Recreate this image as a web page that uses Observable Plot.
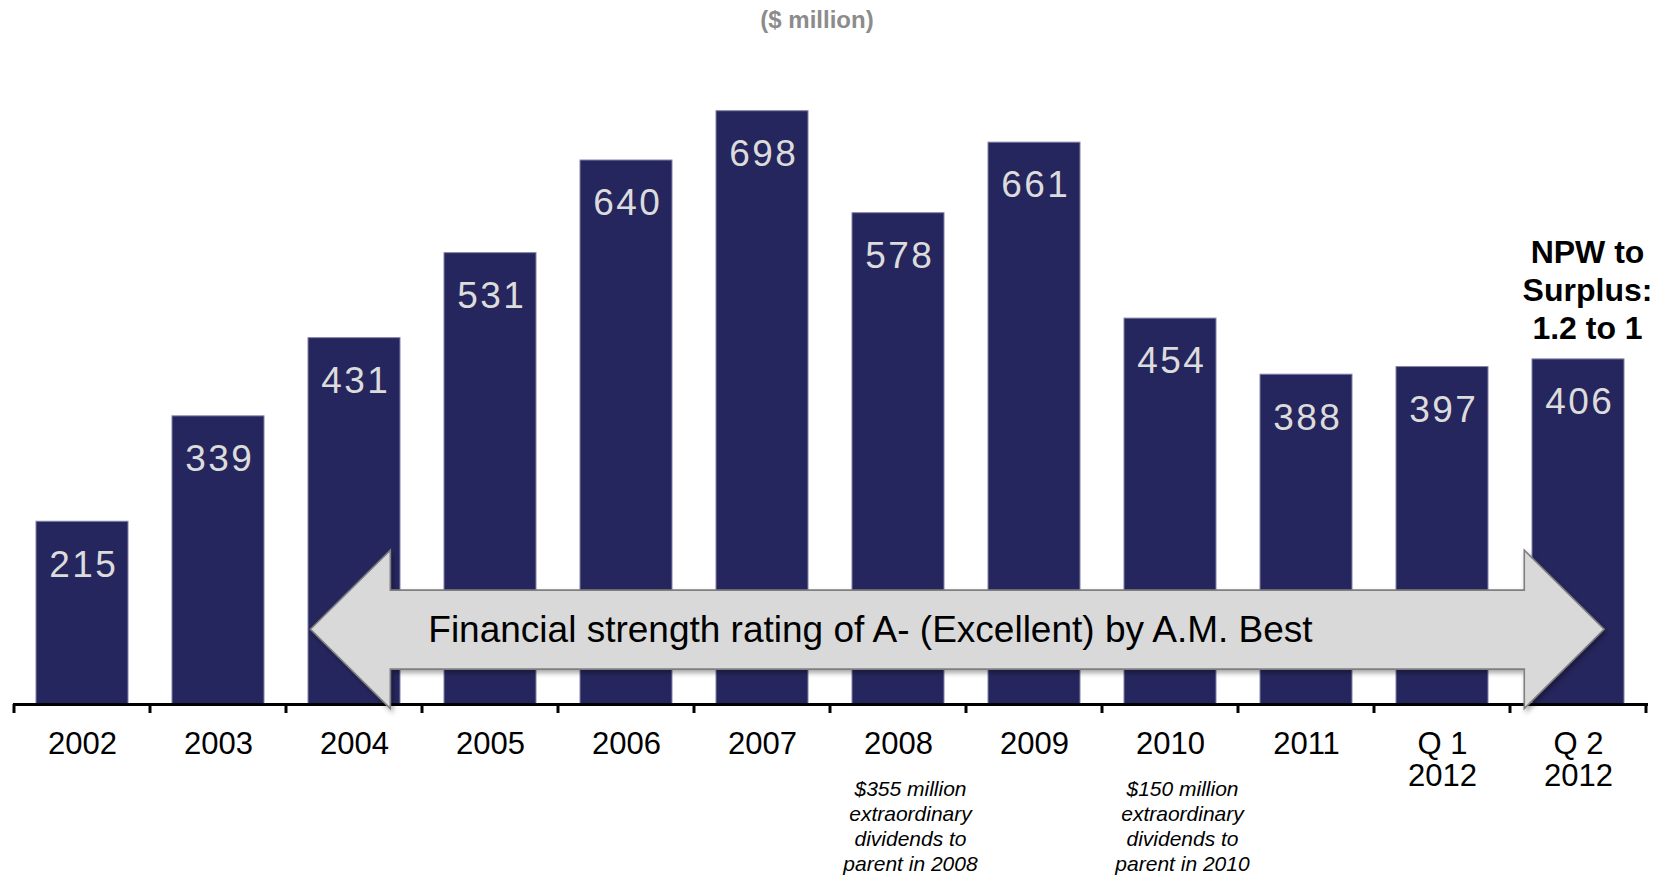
<!DOCTYPE html>
<html><head><meta charset="utf-8">
<script src="https://cdn.jsdelivr.net/npm/d3@7"></script>
<script src="https://cdn.jsdelivr.net/npm/@observablehq/plot@0.6"></script>
<style>
body{margin:0;background:#fff;font-family:"Liberation Sans",Arial,sans-serif;}
#title{width:1634px;height:40px;line-height:40px;text-align:center;font-weight:bold;font-size:24px;color:#8c8c8c;}
</style></head><body>
<div id="title"></div>
<div id="chart"></div>
<script>
const unitTitle = "($ million)";
const categories = ["2002","2003","2004","2005","2006","2007","2008","2009","2010","2011","Q 1\n2012","Q 2\n2012"];
const values = [215,339,431,531,640,698,578,661,454,388,397,406];
const noteCategories = ["2008","2010"];
const noteTexts = [
  "$355 million\nextraordinary\ndividends to\nparent in 2008",
  "$150 million\nextraordinary\ndividends to\nparent in 2010"
];
const ratioCategory = "Q 2\n2012";
const ratioText = "NPW to\nSurplus:\n1.2 to 1";
const ratingText = "Financial strength rating of A- (Excellent) by A.M. Best";
const ratingFrom = "2004";
const ratingTo = "Q 2\n2012";

document.getElementById("title").textContent = unitTitle;

const data = categories.map((c, i) => ({cat: c, value: values[i]}));
const notes = noteCategories.map((c, i) => ({cat: c, text: noteTexts[i]}));
const ratio = [{cat: ratioCategory, value: values[categories.indexOf(ratioCategory)], text: ratioText}];

function axisAndArrow(index, scales, vals, dims) {
  const x = scales.x, y = scales.y;
  const step = x.step(), bw = x.bandwidth(), off = (step - bw) / 2;
  const start = c => x(c) - off;
  const g = d3.create("svg:g");
  const defs = g.append("defs");
  const f = defs.append("filter").attr("id", "shadow").attr("x", "-5%").attr("y", "-20%").attr("width", "110%").attr("height", "150%");
  f.append("feDropShadow").attr("dx", 2).attr("dy", 3).attr("stdDeviation", 2.5)
    .attr("flood-color", "#000").attr("flood-opacity", 0.35);
  const y0 = y(0);
  for (let k = 0; k <= categories.length; k++) {
    const xb = start(categories[0]) + k * step;
    g.append("line").attr("x1", xb).attr("x2", xb).attr("y1", y0).attr("y2", y0 + 9)
      .attr("stroke", "black").attr("stroke-width", 3);
  }
  const xTipL = start(ratingFrom) + 0.18 * step;
  const xBackL = start(ratingFrom) + 0.767 * step;
  const xBackR = start(ratingTo) + 0.105 * step;
  const xTipR = start(ratingTo) + 0.692 * step;
  const yTip = y(88), yHT = y(181), yHB = y(-5.5), yST = y(134), ySB = y(41);
  const pts = [[xTipL, yTip], [xBackL, yHT], [xBackL, yST], [xBackR, yST], [xBackR, yHT], [xTipR, yTip],
               [xBackR, yHB], [xBackR, ySB], [xBackL, ySB], [xBackL, yHB]];
  g.append("path").attr("d", "M" + pts.map(p => p.join(",")).join("L") + "Z")
    .attr("fill", "#d9d9d9").attr("stroke", "#7f7f7f").attr("stroke-width", 1.6)
    .attr("filter", "url(#shadow)");
  g.append("text").attr("x", xBackL + 38).attr("y", yTip).attr("dy", "0.35em")
    .attr("text-anchor", "start").attr("font-size", 37).attr("fill", "black").text(ratingText);
  return g.node();
}

const chart = Plot.plot({
  width: 1667,
  height: 836,
  marginLeft: 13,
  marginRight: 19,
  marginTop: 18,
  marginBottom: 172,
  style: {fontFamily: "'Liberation Sans', Arial, sans-serif", background: "white"},
  x: {domain: categories, paddingInner: 0.32, paddingOuter: 0.16, axis: null},
  y: {domain: [0, 760], axis: null},
  marks: [
    Plot.barY(data, {x: "cat", y: "value", fill: "#26265e", stroke: "#8282a6", strokeWidth: 1}),
    Plot.text(data, {x: "cat", y: "value", text: d => String(d.value), dy: 43, fill: "#dcdcdc", fontSize: 37, lineAnchor: "middle"}),
    Plot.ruleY([0], {stroke: "black", strokeWidth: 3}),
    axisAndArrow,
    Plot.text(data, {x: "cat", text: "cat", frameAnchor: "bottom", lineAnchor: "top", dy: 26, fontSize: 31, lineHeight: 1.05, fill: "black"}),
    Plot.text(notes, {x: "cat", text: "text", frameAnchor: "bottom", lineAnchor: "top", dy: 74, dx: 12, fontSize: 21, fontStyle: "italic", lineHeight: 1.19, fill: "black"}),
    Plot.text(ratio, {x: "cat", y: "value", text: "text", lineAnchor: "bottom", dy: -20, dx: 9, fontSize: 32, fontWeight: "bold", lineHeight: 1.19, fill: "black"})
  ]
});
document.getElementById("chart").appendChild(chart);
d3.select(chart).selectAll('g[aria-label="text"]').filter(function() { return this.getAttribute("fill") === "#dcdcdc"; })
  .selectAll("text").attr("letter-spacing", 2.5).attr("dx", 1.25);
</script>
</body></html>
